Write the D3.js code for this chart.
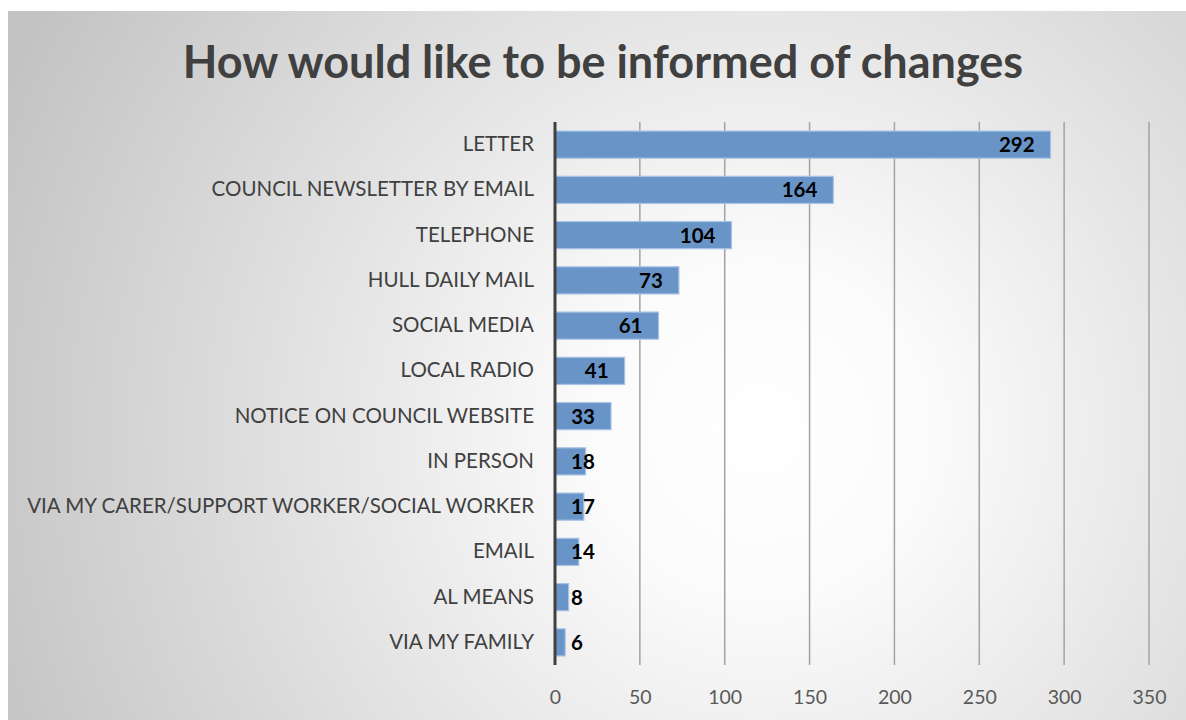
<!DOCTYPE html>
<html>
<head>
<meta charset="utf-8">
<script src="https://cdn.jsdelivr.net/npm/d3@7"></script>
<style>
  html, body { margin: 0; padding: 0; background: #ffffff; }
  svg { display: block; }
  text { font-family: Lato, "Open Sans", sans-serif; }
</style>
</head>
<body>
<svg id="chart" width="1186" height="720"></svg>
<script>
// Survey responses: preferred ways of being told about changes
const categories = [
  "LETTER",
  "COUNCIL NEWSLETTER BY EMAIL",
  "TELEPHONE",
  "HULL DAILY MAIL",
  "SOCIAL MEDIA",
  "LOCAL RADIO",
  "NOTICE ON COUNCIL WEBSITE",
  "IN PERSON",
  "VIA MY CARER/SUPPORT WORKER/SOCIAL WORKER",
  "EMAIL",
  "AL MEANS",
  "VIA MY FAMILY"
];
const counts = [292, 164, 104, 73, 61, 41, 33, 18, 17, 14, 8, 6];
const tickValues = [0, 50, 100, 150, 200, 250, 300, 350];
const title = "How would like to be informed of changes";

const W = 1186, H = 720;
const svg = d3.select("#chart");

// Chart area background: soft radial grey-to-white fill
const defs = svg.append("defs");
const grad = defs.append("radialGradient")
  .attr("id", "bg")
  .attr("gradientUnits", "userSpaceOnUse")
  .attr("cx", 760).attr("cy", 430).attr("r", 840)
  .attr("fx", 760).attr("fy", 430);
grad.append("stop").attr("offset", "0").attr("stop-color", "#ffffff");
grad.append("stop").attr("offset", "0.2").attr("stop-color", "#fbfbfb");
grad.append("stop").attr("offset", "1").attr("stop-color", "#c2c2c2");

svg.append("rect")
  .attr("x", 8).attr("y", 11)
  .attr("width", W - 8).attr("height", H - 11)
  .attr("fill", "url(#bg)");

// Scales
const x = d3.scaleLinear().domain([0, 350]).range([555, 1149]);
const y = d3.scaleBand().domain(categories).range([122, 665]).paddingInner(0.4).paddingOuter(0.2);

// Title
svg.append("text")
  .attr("x", 603).attr("y", 78)
  .attr("text-anchor", "middle")
  .attr("font-size", 45)
  .attr("font-weight", 700)
  .attr("fill", "#404040")
  .text(title);

// Vertical gridlines
svg.append("g")
  .selectAll("line")
  .data(tickValues.filter(d => d > 0))
  .join("line")
  .attr("x1", d => x(d)).attr("x2", d => x(d))
  .attr("y1", 122).attr("y2", 665)
  .attr("stroke", "#a3a3a3")
  .attr("stroke-width", 1.5);

// Bottom axis labels (no axis line, no tick marks)
const xAxis = d3.axisBottom(x).tickValues(tickValues).tickSize(0).tickPadding(0);
const gx = svg.append("g").attr("transform", "translate(0,697)").call(xAxis);
gx.select(".domain").remove();
gx.selectAll("text")
  .attr("font-family", "Lato, 'Open Sans', sans-serif")
  .attr("font-size", 19.5)
  .attr("fill", "#595959")
  .attr("dy", "0.36em");

// Bars
svg.append("g")
  .selectAll("rect")
  .data(categories)
  .join("rect")
  .attr("x", x(0))
  .attr("y", d => y(d))
  .attr("width", (d, i) => x(counts[i]) - x(0))
  .attr("height", y.bandwidth())
  .attr("fill", "#6894c8")
  .attr("stroke", "#a8c3e5")
  .attr("stroke-width", 1.2);

// Category axis on the left
const yAxis = d3.axisLeft(y).tickSize(0).tickPadding(21);
const gy = svg.append("g").attr("transform", `translate(${x(0)},0)`).call(yAxis);
gy.select(".domain").remove();
gy.selectAll("text")
  .attr("font-family", "Lato, 'Open Sans', sans-serif")
  .attr("font-size", 20.5)
  .attr("fill", "#404040");

svg.append("line")
  .attr("x1", x(0)).attr("x2", x(0))
  .attr("y1", 122).attr("y2", 665)
  .attr("stroke", "#404040")
  .attr("stroke-width", 3);

// Value labels at the inside end of each bar, kept clear of the axis
const labels = svg.append("g")
  .selectAll("text")
  .data(categories)
  .join("text")
  .attr("y", d => y(d) + y.bandwidth() / 2)
  .attr("dy", "0.36em")
  .attr("text-anchor", "end")
  .attr("font-size", 20.5)
  .attr("font-weight", 700)
  .attr("fill", "#000000")
  .text((d, i) => counts[i]);
labels.each(function(d, i) {
  const w = this.getComputedTextLength();
  const right = Math.max(x(counts[i]) - 16, x(0) + 16 + w);
  d3.select(this).attr("x", right);
});
</script>
</body>
</html>
